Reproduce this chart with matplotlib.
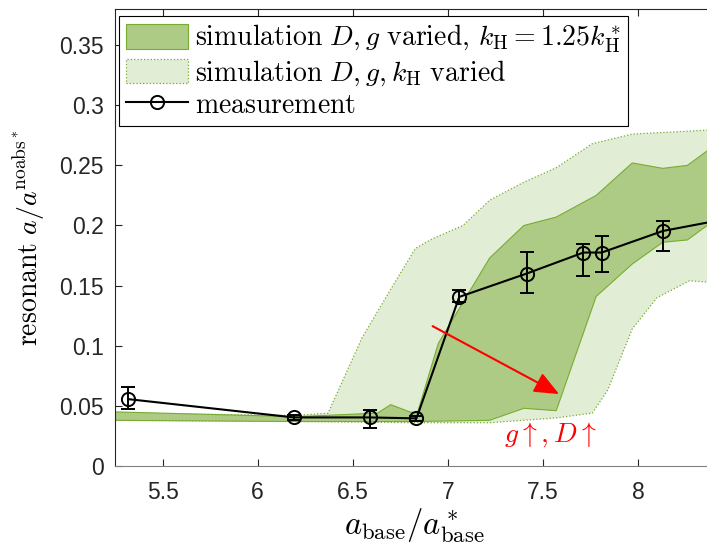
import numpy as np
import matplotlib.pyplot as plt
from matplotlib.patches import Patch
from matplotlib.lines import Line2D

plt.rcParams['mathtext.fontset'] = 'cm'
plt.rcParams['font.family'] = ['Liberation Sans', 'DejaVu Sans']

# measured resonant amplitude with asymmetric error bars
a_meas = [5.32, 6.19, 6.59, 6.835, 7.06, 7.414, 7.713, 7.809, 8.13, 8.55]
res_meas = [0.0556, 0.0404, 0.0404, 0.0396, 0.1406, 0.160, 0.1775, 0.1775, 0.1954, 0.208]
err_lo = [0.0083, 0.002, 0.0088, 0.002, 0.004, 0.016, 0.0195, 0.016, 0.017, 0.008]
err_hi = [0.0100, 0.002, 0.0061, 0.002, 0.006, 0.018, 0.0075, 0.014, 0.008, 0.008]

# simulation band: D, g and k_H varied
x_light_up = [5.25, 6.20, 6.37, 6.55, 6.73, 6.83, 6.92, 7.08, 7.22, 7.40, 7.57, 7.76, 7.97, 8.45]
y_light_up = [0.044, 0.042, 0.044, 0.107, 0.155, 0.181, 0.189, 0.200, 0.221, 0.236, 0.248, 0.268, 0.276, 0.280]
x_light_lo = [5.25, 6.20, 6.84, 7.22, 7.57, 7.76, 7.84, 7.97, 8.10, 8.27, 8.45]
y_light_lo = [0.038, 0.037, 0.036, 0.036, 0.040, 0.044, 0.063, 0.114, 0.140, 0.154, 0.152]

# simulation band: D, g varied, k_H = 1.25 k_H*
x_dark_up = [5.25, 6.20, 6.63, 6.70, 6.80, 6.84, 6.95, 7.22, 7.40, 7.57, 7.78, 7.97, 8.13, 8.26, 8.45]
y_dark_up = [0.045, 0.041, 0.044, 0.051, 0.045, 0.044, 0.102, 0.173, 0.200, 0.207, 0.225, 0.252, 0.2475, 0.250, 0.272]
x_dark_lo = [5.25, 6.20, 6.84, 7.22, 7.40, 7.57, 7.78, 7.97, 8.13, 8.26, 8.45]
y_dark_lo = [0.038, 0.037, 0.037, 0.038, 0.048, 0.046, 0.141, 0.168, 0.186, 0.188, 0.210]

green = '#77ac30'
light_face = '#e2edd6'
dark_face = '#aecb85'

fig = plt.figure(figsize=(7.07, 5.46), dpi=100)
ax = fig.add_axes([0.1627, 0.1465, 0.8473, 0.837])

ax.fill(np.concatenate([x_light_up, x_light_lo[::-1]]),
        np.concatenate([y_light_up, y_light_lo[::-1]]),
        facecolor=light_face, edgecolor=green, linestyle=':', linewidth=0.9)
ax.fill(np.concatenate([x_dark_up, x_dark_lo[::-1]]),
        np.concatenate([y_dark_up, y_dark_lo[::-1]]),
        facecolor=dark_face, edgecolor=green, linewidth=0.8)

ax.errorbar(a_meas, res_meas, yerr=[err_lo, err_hi], color='black', linewidth=1.5,
            marker='o', markersize=9.5, markerfacecolor='none', markeredgewidth=1.4,
            capsize=5, capthick=1.4, elinewidth=1.4)

ax.annotate('', xy=(7.585, 0.0598), xytext=(6.92, 0.1163),
            arrowprops=dict(arrowstyle='-|>,head_length=0.75,head_width=0.32',
                            mutation_scale=20, color='red', linewidth=1.5,
                            shrinkA=0, shrinkB=0))
ax.text(7.537, 0.0257, r'$g\uparrow, D\uparrow$', color='red', fontsize=20,
        ha='center', va='center')

ax.set_xlim(5.25, 8.4)
ax.set_ylim(0, 0.38)
ax.set_xticks([5.5, 6, 6.5, 7, 7.5, 8])
ax.set_xticklabels(['5.5', '6', '6.5', '7', '7.5', '8'])
ax.set_yticks([0, 0.05, 0.1, 0.15, 0.2, 0.25, 0.3, 0.35])
ax.set_yticklabels(['0', '0.05', '0.1', '0.15', '0.2', '0.25', '0.3', '0.35'])
ax.tick_params(direction='in', length=5, width=0.8, labelsize=16.5,
               labelcolor='#262626', color='#262626', top=True, right=True)
ax.tick_params(axis='x', pad=11)
ax.tick_params(axis='y', pad=8)
for side in ['left', 'top', 'right']:
    ax.spines[side].set_color('#262626')
ax.spines['bottom'].set_color('#808080')
for s in ax.spines.values():
    s.set_linewidth(0.8)

ax.set_xlabel(r'$a_{\mathrm{base}}/a^*_{\mathrm{base}}$', fontsize=23.5, labelpad=2)
ax.set_ylabel(r'$\mathrm{resonant}\ a/a^{\mathrm{noabs}^*}$', fontsize=20, labelpad=9)

handles = [
    Patch(facecolor=dark_face, edgecolor=green, linewidth=0.8),
    Patch(facecolor=light_face, edgecolor=green, linestyle=':', linewidth=0.9),
    Line2D([], [], color='black', linewidth=1.5, marker='o', markersize=9.5,
           markerfacecolor='none', markeredgewidth=1.4),
]
labels = [
    r'$\mathrm{simulation}\ D, g\ \mathrm{varied,}\,k_{\mathrm{H}} = 1.25k^*_{\mathrm{H}}$',
    r'$\mathrm{simulation}\ D, g, k_{\mathrm{H}}\ \mathrm{varied}$',
    r'$\mathrm{measurement}$',
]
leg = ax.legend(handles, labels, loc='upper left', bbox_to_anchor=(0.0067, 0.985),
                fontsize=20, frameon=True, fancybox=False, edgecolor='black',
                framealpha=1, borderaxespad=0, handlelength=2.25, handleheight=1.0,
                handletextpad=0.22, labelspacing=0.12, borderpad=0.25)
leg.get_frame().set_linewidth(0.8)

fig.savefig('out.png', dpi=100)
